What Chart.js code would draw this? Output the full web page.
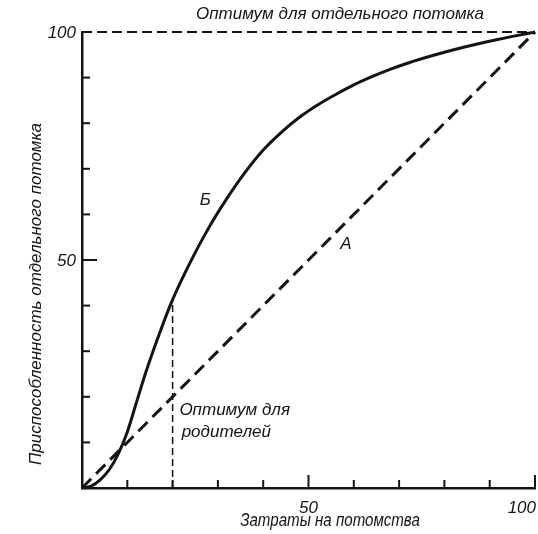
<!DOCTYPE html>
<html>
<head>
<meta charset="utf-8">
<script src="https://cdn.jsdelivr.net/npm/chart.js@4.4.0/dist/chart.umd.min.js"></script>
<style>
  html, body { margin: 0; padding: 0; background: #fff; }
</style>
</head>
<body>
<canvas id="chart" width="538" height="534"></canvas>
<script>
// curve Б — fitness of one offspring vs parental investment
const investB = [0, 2, 4, 6, 8, 10, 12, 14, 17, 20, 24, 28, 32, 36, 40, 44, 48, 52, 56, 60, 64, 68, 72, 78, 84, 92, 100];
const fitnessB = [0, 0.4, 1.8, 4, 7.5, 12.3, 18.7, 25.1, 33.6, 41.3, 49.7, 57.1, 63.5, 69.2, 74.1, 78.0, 81.3, 84.0, 86.3, 88.4, 90.2, 91.8, 93.2, 95.0, 96.6, 98.4, 100];
// line A
const investA = [0, 100];
const fitnessA = [0, 100];
// optimum for the single offspring (top dashed line)
const optimumX = [0, 100];
const optimumY = [100, 100];
// optimum for the parents (vertical dashed line)
const parentX = [20, 20];
const parentY = [0, 41.3];

const xTicks = [10, 20, 30, 40, 50, 60, 70, 80, 90, 100];
const yTicks = [10, 20, 30, 40, 50, 60, 70, 80, 90, 100];
const xTickLabels = [50, 100];
const yTickLabels = [50, 100];

const ink = "#141414";
const font = "italic 17px 'Liberation Sans', 'DejaVu Sans', sans-serif";

const toPoints = (xs, ys) => xs.map((x, i) => ({ x: x, y: ys[i] }));

// inward ticks, labels and the hand-lettered notes
const drawingPlugin = {
  id: "drawing",
  afterDraw(chart) {
    const ctx = chart.ctx;
    const xs = chart.scales.x;
    const ys = chart.scales.y;
    const area = chart.chartArea;
    ctx.save();
    ctx.strokeStyle = ink;
    ctx.fillStyle = ink;
    ctx.lineWidth = 2;

    xTicks.forEach((v) => {
      const px = xs.getPixelForValue(v);
      const len = v % 50 === 0 ? 13 : 8;
      ctx.beginPath();
      ctx.moveTo(px, area.bottom);
      ctx.lineTo(px, area.bottom - len);
      ctx.stroke();
    });
    yTicks.forEach((v) => {
      const py = ys.getPixelForValue(v);
      const len = v === 50 ? 15 : 8;
      ctx.beginPath();
      ctx.moveTo(area.left, py);
      ctx.lineTo(area.left + len, py);
      ctx.stroke();
    });

    ctx.font = font;
    ctx.textBaseline = "middle";
    ctx.textAlign = "right";
    yTickLabels.forEach((v) => {
      ctx.fillText(String(v), area.left - 6, ys.getPixelForValue(v) + 1);
    });
    xTickLabels.forEach((v) => {
      const px = xs.getPixelForValue(v);
      if (v === 100) {
        ctx.textAlign = "right";
        ctx.fillText(String(v), px + 1, area.bottom + 20);
      } else {
        ctx.textAlign = "center";
        ctx.fillText(String(v), px, area.bottom + 20);
      }
    });

    // axis titles; the x one is lettered narrower in the original
    ctx.textAlign = "center";
    ctx.save();
    ctx.font = "italic 18px 'Liberation Sans', sans-serif";
    ctx.translate(330, area.bottom + 33);
    ctx.scale(0.84, 1);
    ctx.fillText("Затраты на потомства", 0, 0);
    ctx.restore();

    ctx.save();
    ctx.translate(36, 294);
    ctx.rotate(-Math.PI / 2);
    ctx.fillText("Приспособленность отдельного потомка", 0, 0);
    ctx.restore();

    ctx.fillText("Оптимум для отдельного потомка", 340, 14);

    ctx.textAlign = "left";
    ctx.fillText("Б", xs.getPixelForValue(26), ys.getPixelForValue(63));
    ctx.fillText("А", xs.getPixelForValue(57), ys.getPixelForValue(53.5));
    ctx.fillText("Оптимум для", xs.getPixelForValue(21.5), ys.getPixelForValue(17));
    ctx.fillText("родителей", xs.getPixelForValue(22), ys.getPixelForValue(12.2));
    ctx.restore();
  },
};

new Chart(document.getElementById("chart"), {
  type: "scatter",
  data: {
    datasets: [
      {
        label: "Б",
        data: toPoints(investB, fitnessB),
        showLine: true,
        borderColor: ink,
        borderWidth: 3,
        pointRadius: 0,
        cubicInterpolationMode: "monotone",
      },
      {
        label: "А",
        data: toPoints(investA, fitnessA),
        showLine: true,
        borderColor: ink,
        borderWidth: 3,
        borderDash: [13, 7],
        pointRadius: 0,
      },
      {
        label: "Оптимум для отдельного потомка",
        data: toPoints(optimumX, optimumY),
        showLine: true,
        borderColor: ink,
        borderWidth: 2,
        borderDash: [10, 5],
        pointRadius: 0,
      },
      {
        label: "Оптимум для родителей",
        data: toPoints(parentX, parentY),
        showLine: true,
        borderColor: ink,
        borderWidth: 1.5,
        borderDash: [7, 4],
        pointRadius: 0,
      },
    ],
  },
  options: {
    responsive: false,
    animation: false,
    clip: 6,
    layout: { padding: { top: 32, right: 3, left: 0, bottom: 0 } },
    plugins: {
      legend: { display: false },
      tooltip: { enabled: false },
    },
    scales: {
      x: {
        type: "linear",
        min: 0,
        max: 100,
        grid: { display: false, drawTicks: false },
        border: { display: true, color: ink, width: 2.5 },
        ticks: { display: false },
        afterFit: (scale) => { scale.height = 46; },
      },
      y: {
        type: "linear",
        min: 0,
        max: 100,
        grid: { display: false, drawTicks: false },
        border: { display: true, color: ink, width: 2.5 },
        ticks: { display: false },
        afterFit: (scale) => { scale.width = 82; },
      },
    },
  },
  plugins: [drawingPlugin],
});
</script>
</body>
</html>
